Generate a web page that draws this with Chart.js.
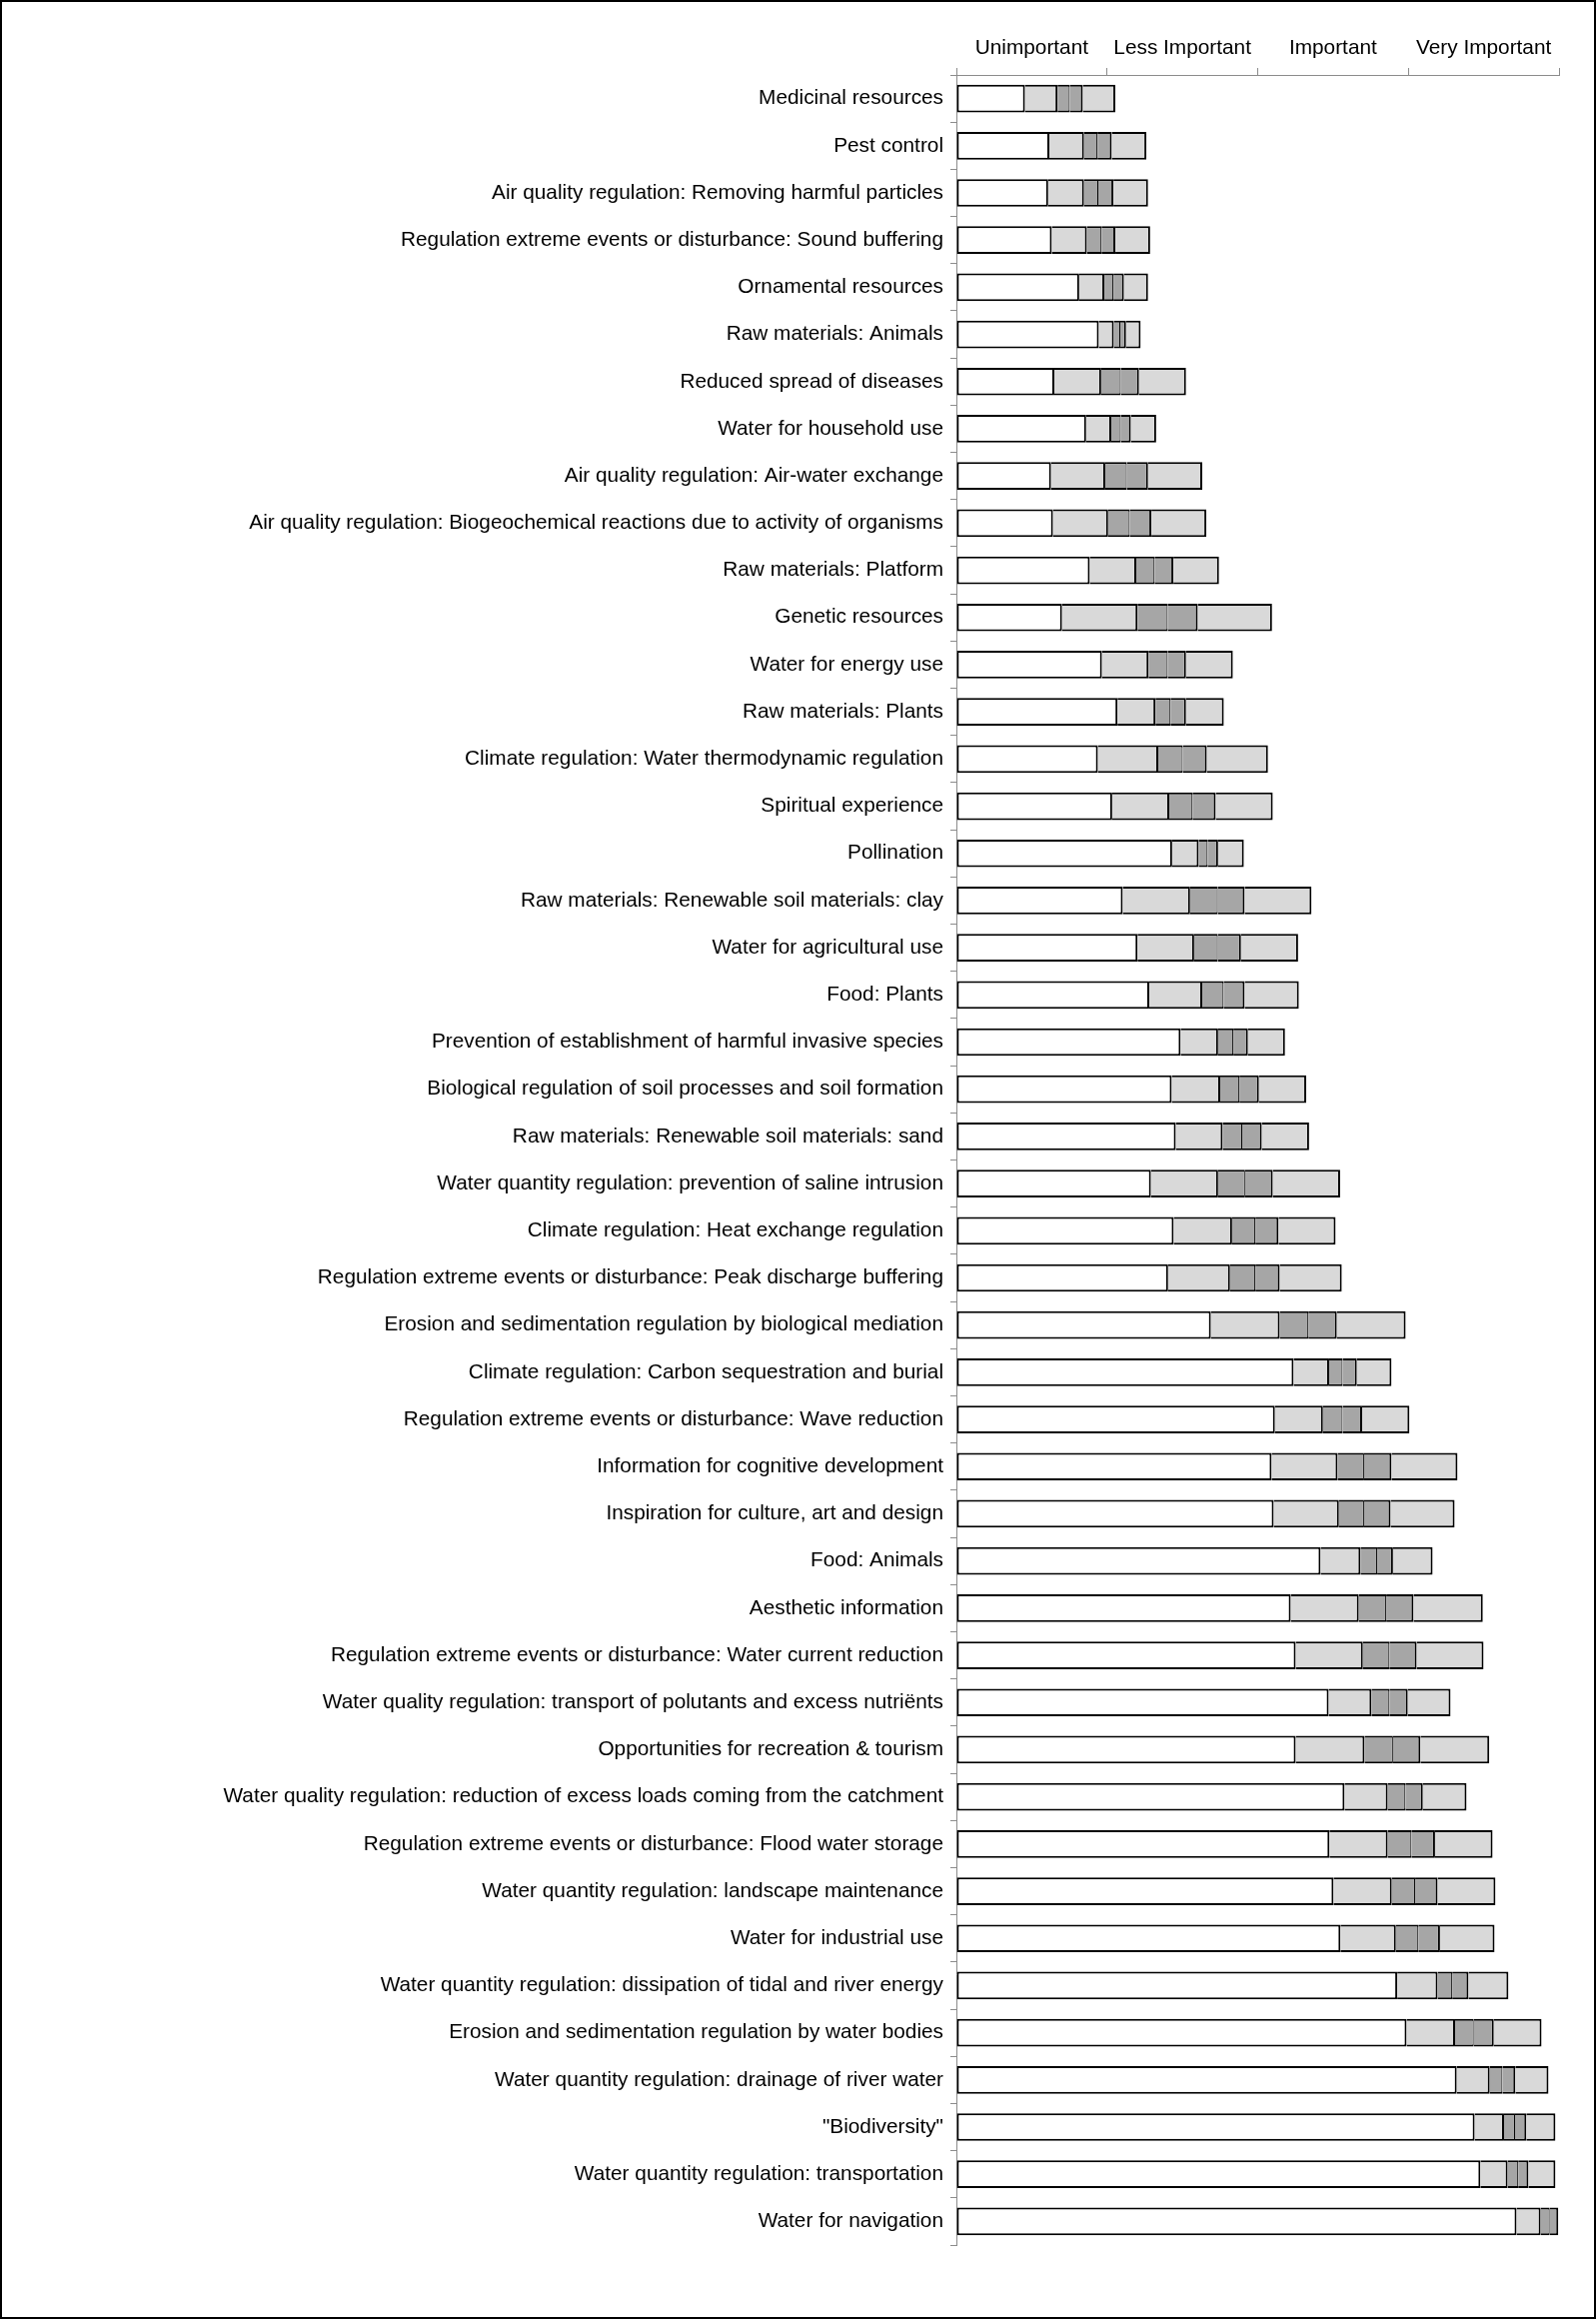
<!DOCTYPE html>
<html>
<head>
<meta charset="utf-8">
<script src="https://cdn.jsdelivr.net/npm/chart.js@4"></script>
<style>
  html, body { margin: 0; padding: 0; background: #fff; }
  #wrap { position: relative; width: 1597px; height: 2320px; }
  #chart { position: absolute; left: 0; top: 0; }
  #frame { position: absolute; left: 0; top: 0; right: 0; bottom: 0; border: 2px solid #000; pointer-events: none; box-sizing: border-box; }
</style>
</head>
<body>
<div id="wrap">
  <canvas id="chart" width="1597" height="2320"></canvas>
  <div id="frame"></div>
</div>
<script>
const categories = [
  'Medicinal resources',
  'Pest control',
  'Air quality regulation: Removing harmful particles',
  'Regulation extreme events or disturbance: Sound buffering',
  'Ornamental resources',
  'Raw materials: Animals',
  'Reduced spread of diseases',
  'Water for household use',
  'Air quality regulation: Air-water exchange',
  'Air quality regulation: Biogeochemical reactions due to activity of organisms',
  'Raw materials: Platform',
  'Genetic resources',
  'Water for energy use',
  'Raw materials: Plants',
  'Climate regulation: Water thermodynamic regulation',
  'Spiritual experience',
  'Pollination',
  'Raw materials: Renewable soil materials: clay',
  'Water for agricultural use',
  'Food: Plants',
  'Prevention of establishment of harmful invasive species',
  'Biological regulation of soil processes and soil formation',
  'Raw materials: Renewable soil materials: sand',
  'Water quantity regulation: prevention of saline intrusion',
  'Climate regulation: Heat exchange regulation',
  'Regulation extreme events or disturbance: Peak discharge buffering',
  'Erosion and sedimentation regulation by biological mediation',
  'Climate regulation: Carbon sequestration and burial',
  'Regulation extreme events or disturbance: Wave reduction',
  'Information for cognitive development',
  'Inspiration for culture, art and design',
  'Food: Animals',
  'Aesthetic information',
  'Regulation extreme events or disturbance: Water current reduction',
  'Water quality regulation: transport of polutants and excess nutriënts',
  'Opportunities for recreation & tourism',
  'Water quality regulation: reduction of excess loads coming from the catchment',
  'Regulation extreme events or disturbance: Flood water storage',
  'Water quantity regulation: landscape maintenance',
  'Water for industrial use',
  'Water quantity regulation: dissipation of tidal and river energy',
  'Erosion and sedimentation regulation by water bodies',
  'Water quantity regulation: drainage of river water',
  '"Biodiversity"',
  'Water quantity regulation: transportation',
  'Water for navigation'
];

// end of white segment (start of outer light-grey range)
const outerLow = [0.455, 0.617, 0.609, 0.633, 0.815, 0.945, 0.650, 0.861, 0.628, 0.641, 0.885, 0.701,
  0.966, 1.069, 0.939, 1.034, 1.432, 1.104, 1.202, 1.280, 1.488, 1.429, 1.456, 1.291,
  1.442, 1.405, 1.689, 2.238, 2.114, 2.092, 2.106, 2.417, 2.219, 2.252, 2.471, 2.252,
  2.576, 2.476, 2.503, 2.549, 2.926, 2.988, 3.321, 3.440, 3.478, 3.718];
// start of dark-grey range
const innerLow = [0.671, 0.847, 0.847, 0.866, 0.982, 1.045, 0.961, 1.028, 0.988, 1.007, 1.194, 1.202,
  1.275, 1.321, 1.340, 1.413, 1.608, 1.551, 1.578, 1.632, 1.737, 1.751, 1.767, 1.737,
  1.830, 1.816, 2.146, 2.474, 2.433, 2.530, 2.539, 2.682, 2.671, 2.698, 2.755, 2.709,
  2.863, 2.863, 2.890, 2.917, 3.194, 3.310, 3.540, 3.635, 3.659, 3.878];
// centre line
const mid = [0.752, 0.936, 0.942, 0.963, 1.042, 1.088, 1.091, 1.091, 1.131, 1.150, 1.315, 1.402,
  1.402, 1.421, 1.502, 1.567, 1.667, 1.735, 1.735, 1.773, 1.838, 1.878, 1.897, 1.916,
  1.984, 1.984, 2.336, 2.563, 2.563, 2.706, 2.706, 2.793, 2.853, 2.874, 2.874, 2.898,
  2.980, 3.020, 3.045, 3.066, 3.291, 3.434, 3.624, 3.708, 3.729, 3.938];
// end of dark-grey range
const innerHigh = [0.839, 1.031, 1.042, 1.055, 1.112, 1.126, 1.212, 1.158, 1.272, 1.294, 1.440, 1.602,
  1.524, 1.524, 1.662, 1.721, 1.737, 1.913, 1.889, 1.913, 1.935, 2.008, 2.027, 2.100,
  2.138, 2.146, 2.525, 2.658, 2.693, 2.888, 2.882, 2.898, 3.034, 3.055, 2.996, 3.080,
  3.096, 3.177, 3.194, 3.210, 3.399, 3.567, 3.710, 3.783, 3.797, 3.995];
// end of outer light-grey range
const outerHigh = [1.055, 1.261, 1.272, 1.286, 1.272, 1.223, 1.524, 1.326, 1.632, 1.659, 1.743, 2.095,
  1.835, 1.775, 2.068, 2.100, 1.908, 2.357, 2.268, 2.273, 2.181, 2.322, 2.341, 2.547,
  2.517, 2.558, 2.982, 2.888, 3.007, 3.326, 3.307, 3.161, 3.494, 3.499, 3.280, 3.537,
  3.386, 3.559, 3.578, 3.572, 3.664, 3.884, 3.930, 3.976, 3.976, 3.995];

const levelTicks = [0.5, 1.5, 2.5, 3.5];
const levelLabels = ['Unimportant', 'Less Important', 'Important', 'Very Important'];

const FONT = { family: '"Liberation Sans", Arial, sans-serif', size: 20.8 };
const AXIS = '#8c8c8c';
const LIGHT = '#d9d9d9';
const DARK = '#a6a6a6';

function seg(a, b) { return categories.map((_, i) => [a[i], b[i]]); }
const zeros = categories.map(() => 0);

const common = { grouped: false, borderColor: '#000', borderSkipped: false, barPercentage: 0.587, categoryPercentage: 1.0 };

const datasets = [
  Object.assign({ label: 'base', data: seg(zeros, outerLow), backgroundColor: '#fff',
    borderWidth: { left: 2, top: 2, right: 2, bottom: 2 } }, common),
  Object.assign({ label: 'low', data: seg(outerLow, innerLow), backgroundColor: LIGHT,
    borderWidth: { left: 0, top: 2, right: 2, bottom: 2 } }, common),
  Object.assign({ label: 'midLow', data: seg(innerLow, mid), backgroundColor: DARK,
    borderWidth: { left: 0, top: 2, right: 1, bottom: 2 } }, common),
  Object.assign({ label: 'midHigh', data: seg(mid, innerHigh), backgroundColor: DARK,
    borderWidth: { left: 0, top: 2, right: 2, bottom: 2 } }, common),
  Object.assign({ label: 'high', data: seg(innerHigh, outerHigh), backgroundColor: LIGHT,
    borderWidth: { left: 0, top: 2, right: 2, bottom: 2 } }, common)
];

new Chart(document.getElementById('chart'), {
  type: 'bar',
  data: { labels: categories, datasets },
  options: {
    indexAxis: 'y',
    responsive: false,
    animation: false,
    devicePixelRatio: 1,
    events: [],
    layout: { padding: { left: 0, top: 0, right: 37, bottom: 74 } },
    plugins: { legend: { display: false }, tooltip: { enabled: false } },
    scales: {
      x: {
        position: 'top',
        min: 0, max: 4,
        afterBuildTicks: (scale) => {
          const t = [];
          for (let v = 0; v <= 4; v++) { t.push({ value: v }); if (v < 4) t.push({ value: levelTicks[v] }); }
          scale.ticks = t;
        },
        afterFit: (scale) => { scale.height = 75; },
        grid: {
          drawOnChartArea: false, drawTicks: true, tickLength: 7, lineWidth: 1,
          tickColor: (ctx) => (ctx.tick && Number.isInteger(ctx.tick.value)) ? AXIS : 'rgba(0,0,0,0)'
        },
        border: { display: true, color: AXIS, width: 1 },
        ticks: {
          autoSkip: false, maxRotation: 0, padding: 7, color: '#000', font: FONT,
          callback: (v) => { const k = levelTicks.indexOf(v); return k >= 0 ? levelLabels[k] : ''; }
        }
      },
      y: {
        type: 'category',
        offset: true,
        afterFit: (scale) => { scale.width = 957; },
        grid: { drawOnChartArea: false, offset: true, tickLength: 6, color: AXIS, lineWidth: 1 },
        border: { display: true, color: AXIS, width: 1 },
        ticks: { autoSkip: false, padding: 7, color: '#000', font: FONT }
      }
    }
  }
});
</script>
</body>
</html>
